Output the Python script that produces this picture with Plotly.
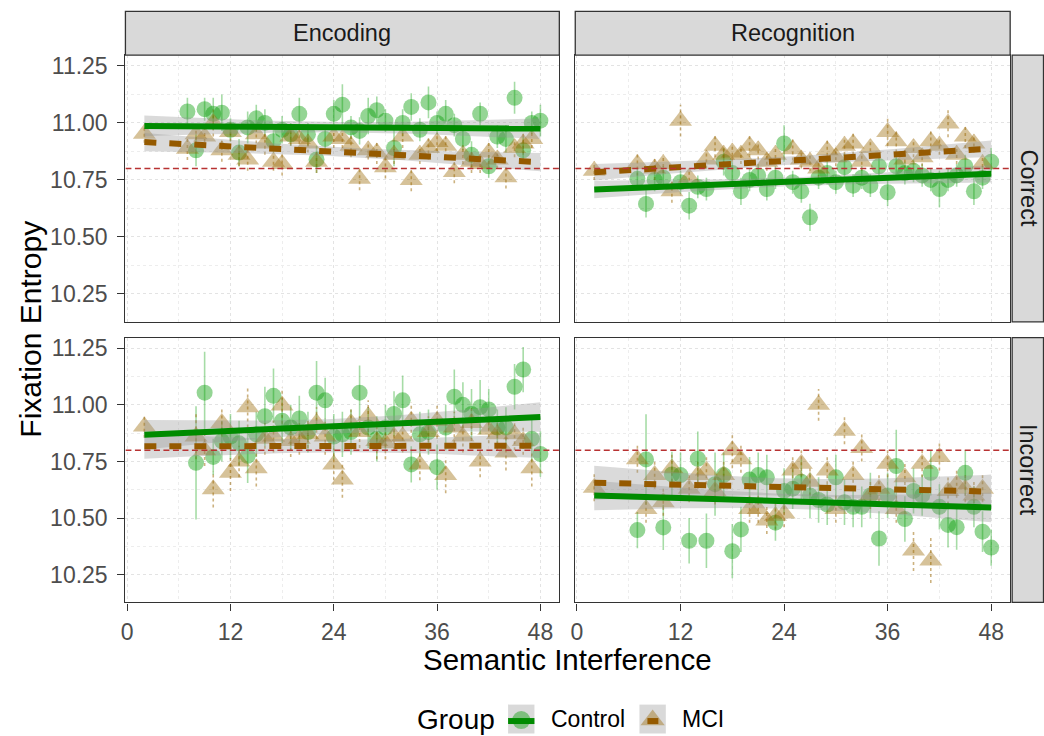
import numpy as np
import plotly.graph_objects as go

W, H = 1044, 736

# ------------------------------------------------------------------ data
fit_x = [2, 48]

# Encoding / Correct
enc_cor_ctrl_x = list(range(7, 49))
enc_cor_ctrl_y = [11.05, 10.88, 11.06, 11.04, 11.045, 10.97, 10.87, 10.98, 11.02, 11.00,
                  10.92, 10.97, 10.95, 11.04, 10.95, 10.84, 10.93, 11.04, 11.08, 10.98,
                  10.965, 11.03, 11.056, 11.01, 10.89, 11.00, 11.07, 10.97, 11.09, 11.00,
                  11.04, 10.99, 10.93, 10.86, 11.04, 10.81, 10.94, 10.93, 11.11, 10.88,
                  11.00, 11.01]
enc_cor_ctrl_err = [.06, .07, .05, .07, .08, .05, .06, .07, .06, .06,
                    .05, .06, .05, .07, .05, .06, .05, .06, .09, .05,
                    .06, .08, .06, .05, .08, .06, .06, .05, .07, .05,
                    .06, .05, .05, .06, .05, .05, .05, .06, .07, .06,
                    .05, .07]
enc_cor_ctrl_fit = [10.987, 10.975]
enc_cor_ctrl_ci = 0.045

enc_cor_mci_x = [2, 7, 8, 9, 10, 11, 12, 13, 14, 15, 16, 17, 18, 19, 20, 21, 22, 24, 25, 26,
                 27, 28, 29, 30, 31, 32, 33, 34, 35, 36, 37, 38, 39, 40, 41, 42, 43, 44, 45, 46, 47]
enc_cor_mci_y = [10.953, 10.887, 10.95, 10.94, 11.00, 10.88, 10.96, 10.86, 10.84, 10.95,
                 10.91, 10.83, 10.82, 10.94, 10.93, 10.91, 10.83, 10.94, 10.93, 10.90,
                 10.755, 10.88, 10.87, 10.806, 10.86, 10.94, 10.75, 10.86, 10.89, 10.916,
                 10.90, 10.785, 10.86, 10.83, 10.82, 10.87, 10.84, 10.762, 10.89, 10.91, 10.93]
enc_cor_mci_err = [.04, .05, .05, .05, .06, .05, .04, .05, .05, .04,
                   .05, .04, .05, .04, .05, .04, .05, .05, .04, .05,
                   .05, .04, .05, .05, .04, .05, .05, .04, .05, .04,
                   .05, .05, .04, .05, .04, .05, .04, .05, .04, .05, .04]
enc_cor_mci_fit = [10.916, 10.828]
enc_cor_mci_ci = 0.04

# Recognition / Correct
rec_cor_ctrl_x = [7, 8, 9, 10, 12, 13, 14, 15, 17, 18, 19, 20, 21, 22, 23, 24, 25, 26, 27, 28,
                  29, 30, 31, 32, 33, 34, 35, 36, 37, 38, 39, 40, 41, 42, 43, 44, 45, 46, 47, 48]
rec_cor_ctrl_y = [10.755, 10.645, 10.75, 10.76, 10.74, 10.637, 10.72, 10.71, 10.83, 10.78,
                  10.70, 10.75, 10.77, 10.71, 10.76, 10.91, 10.74, 10.70, 10.586, 10.76,
                  10.78, 10.74, 10.806, 10.725, 10.76, 10.725, 10.81, 10.696, 10.81, 10.78,
                  10.79, 10.77, 10.75, 10.71, 10.75, 10.77, 10.81, 10.70, 10.76, 10.83]
rec_cor_ctrl_err = [.05, .06, .05, .05, .05, .06, .05, .05, .06, .05,
                    .06, .05, .05, .05, .05, .08, .05, .05, .06, .05,
                    .05, .05, .06, .05, .05, .05, .05, .06, .05, .05,
                    .05, .05, .05, .08, .05, .05, .05, .06, .05, .06]
rec_cor_ctrl_fit = [10.708, 10.777]
rec_cor_ctrl_ci = 0.038

rec_cor_mci_x = [2, 7, 9, 10, 11, 12, 13, 15, 16, 17, 18, 19, 20, 21, 22, 23, 25, 26, 27, 28,
                 29, 30, 31, 32, 33, 34, 36, 37, 38, 39, 40, 41, 42, 43, 44, 45, 46, 47]
rec_cor_mci_y = [10.79, 10.82, 10.80, 10.82, 10.70, 11.01, 10.76, 10.84, 10.90, 10.86,
                 10.87, 10.86, 10.90, 10.88, 10.83, 10.86, 10.885, 10.84, 10.83, 10.80,
                 10.88, 10.85, 10.90, 10.91, 10.83, 10.89, 10.96, 10.92, 10.84, 10.89,
                 10.85, 10.92, 10.90, 10.997, 10.86, 10.94, 10.91, 10.82]
rec_cor_mci_err = [.04, .05, .05, .04, .05, .07, .04, .04, .05, .04,
                   .04, .04, .05, .04, .04, .04, .05, .04, .04, .04,
                   .05, .04, .04, .05, .04, .04, .06, .05, .04, .04,
                   .04, .05, .04, .06, .04, .05, .04, .04]
rec_cor_mci_fit = [10.784, 10.887]
rec_cor_mci_ci = 0.036

# Encoding / Incorrect
enc_inc_ctrl_x = list(range(8, 49))
enc_inc_ctrl_y = [10.744, 11.054, 10.77, 10.84, 10.86, 10.83, 10.775, 10.87, 10.95, 11.04,
                  10.93, 10.90, 10.94, 10.88, 11.054, 11.02, 10.86, 10.87, 10.88, 11.054,
                  10.90, 10.85, 10.90, 10.96, 11.02, 10.737, 10.87, 10.88, 10.725, 10.90,
                  11.036, 11.00, 10.96, 10.99, 10.98, 10.90, 10.90, 11.08, 11.156, 10.85,
                  10.783]
enc_inc_ctrl_err = [.25, .18, .08, .09, .10, .10, .12, .10, .13, .12,
                    .10, .10, .10, .09, .14, .10, .10, .10, .10, .12,
                    .09, .10, .10, .10, .11, .08, .10, .10, .10, .10,
                    .12, .10, .11, .12, .09, .08, .09, .10, .10, .10,
                    .10]
enc_inc_ctrl_fit = [10.868, 10.946]
enc_inc_ctrl_ci = 0.065

enc_inc_mci_x = [2] + list(range(8, 48))
enc_inc_mci_y = [10.905, 10.86, 10.80, 10.627, 10.92, 10.70, 10.75, 10.99, 10.72, 10.85,
                 10.86, 10.997, 10.84, 10.85, 10.87, 10.92, 10.86, 10.737, 10.67, 10.92,
                 10.88, 10.95, 10.84, 10.83, 10.86, 10.86, 10.93, 10.737, 10.88, 10.93,
                 10.69, 10.90, 10.86, 10.92, 10.75, 10.89, 10.87, 10.79, 10.87, 10.84,
                 10.72]
enc_inc_mci_err = [.05, .10, .07, .08, .06, .08, .07, .09, .08, .07,
                   .07, .08, .07, .07, .06, .07, .08, .07, .08, .06,
                   .07, .07, .08, .07, .06, .07, .08, .07, .07, .08,
                   .08, .07, .07, .08, .07, .06, .07, .08, .07, .06,
                   .08]
enc_inc_mci_fit = [10.817, 10.820]
enc_inc_mci_ci = 0.055

# Recognition / Incorrect
rec_inc_ctrl_x = [7, 8] + list(range(10, 49))
rec_inc_ctrl_y = [10.447, 10.759, 10.459, 10.693, 10.69, 10.40, 10.762, 10.40, 10.65, 10.69,
                  10.354, 10.45, 10.67, 10.69, 10.68, 10.48, 10.62, 10.63, 10.66, 10.60,
                  10.58, 10.56, 10.68, 10.57, 10.55, 10.55, 10.60, 10.41, 10.60, 10.73,
                  10.496, 10.62, 10.60, 10.70, 10.55, 10.47, 10.46, 10.70, 10.55, 10.44,
                  10.37]
rec_inc_ctrl_err = [.08, .20, .10, .10, .10, .10, .12, .12, .14, .10,
                    .12, .10, .10, .10, .10, .08, .10, .09, .10, .10,
                    .10, .09, .10, .10, .09, .09, .10, .12, .10, .16,
                    .10, .10, .09, .10, .10, .10, .10, .10, .09, .09,
                    .08]
rec_inc_ctrl_fit = [10.600, 10.547]
rec_inc_ctrl_ci = 0.065

rec_inc_mci_x = [2, 7, 8, 9, 10, 11] + list(range(13, 48))
rec_inc_mci_y = [10.634, 10.76, 10.54, 10.69, 10.57, 10.72, 10.63, 10.69, 10.71, 10.62,
                 10.69, 10.80, 10.76, 10.54, 10.54, 10.49, 10.51, 10.52, 10.71, 10.74,
                 10.66, 11.00, 10.71, 10.54, 10.886, 10.69, 10.81, 10.60, 10.63, 10.74,
                 10.54, 10.68, 10.357, 10.74, 10.313, 10.77, 10.62, 10.65, 10.63, 10.60,
                 10.63]
rec_inc_mci_err = [.06, .06, .06, .06, .06, .06, .06, .06, .06, .06,
                   .06, .08, .06, .06, .06, .06, .06, .06, .06, .06,
                   .06, .07, .06, .06, .06, .06, .06, .06, .06, .06,
                   .06, .06, .09, .06, .10, .06, .06, .06, .06, .06,
                   .06]
rec_inc_mci_fit = [10.656, 10.617]
rec_inc_mci_ci = 0.075

reference_level = 10.8
x_ticks = [0, 12, 24, 36, 48]
y_ticks = [10.25, 10.50, 10.75, 11.00, 11.25]
col_labels = ["Encoding", "Recognition"]
row_labels = ["Correct", "Incorrect"]
group_labels = ["Control", "MCI"]

# ------------------------------------------------------------------ style
CTRL_LINE = "#008B00"
MCI_LINE = "#955A00"
CTRL_PT = "rgba(0,155,0,0.42)"
MCI_PT = "rgba(153,102,0,0.40)"
CTRL_ERR = "rgba(0,155,0,0.35)"
MCI_ERR = "rgba(153,102,0,0.50)"
RIBBON = "rgba(150,150,150,0.35)"
REF = "#B83232"
FONT = "Liberation Sans, Arial, sans-serif"
GRID = "#E3E3E3"
GRID_MINOR = "#EDEDED"

XR = [-0.2, 50.2]
YR = [10.128, 11.297]

colpx = [(121, 557), (573, 1010)]
rowpx = [(53.3, 320.7), (336.5, 602)]


def fx(p):
    return p / W


def fy(p):
    return 1 - p / H


fig = go.Figure()

panels = [
    ("x", "y", (enc_cor_ctrl_x, enc_cor_ctrl_y, enc_cor_ctrl_err, enc_cor_ctrl_fit, enc_cor_ctrl_ci),
     (enc_cor_mci_x, enc_cor_mci_y, enc_cor_mci_err, enc_cor_mci_fit, enc_cor_mci_ci)),
    ("x2", "y2", (rec_cor_ctrl_x, rec_cor_ctrl_y, rec_cor_ctrl_err, rec_cor_ctrl_fit, rec_cor_ctrl_ci),
     (rec_cor_mci_x, rec_cor_mci_y, rec_cor_mci_err, rec_cor_mci_fit, rec_cor_mci_ci)),
    ("x3", "y3", (enc_inc_ctrl_x, enc_inc_ctrl_y, enc_inc_ctrl_err, enc_inc_ctrl_fit, enc_inc_ctrl_ci),
     (enc_inc_mci_x, enc_inc_mci_y, enc_inc_mci_err, enc_inc_mci_fit, enc_inc_mci_ci)),
    ("x4", "y4", (rec_inc_ctrl_x, rec_inc_ctrl_y, rec_inc_ctrl_err, rec_inc_ctrl_fit, rec_inc_ctrl_ci),
     (rec_inc_mci_x, rec_inc_mci_y, rec_inc_mci_err, rec_inc_mci_fit, rec_inc_mci_ci)),
]


def err_segments(xs, ys, es):
    ex, ey = [], []
    for x, y, e in zip(xs, ys, es):
        ex += [x, x, None]
        ey += [y - e, y + e, None]
    return ex, ey


for xa, ya, ctrl, mci in panels:
    # error bars
    for (xs, ys, es, _, _), col, dash in [(ctrl, CTRL_ERR, "solid"), (mci, MCI_ERR, "dot")]:
        ex, ey = err_segments(xs, ys, es)
        fig.add_trace(go.Scatter(x=ex, y=ey, mode="lines", xaxis=xa, yaxis=ya,
                                 line=dict(color=col, width=1.6, dash=dash),
                                 showlegend=False, hoverinfo="skip"))
    # points
    fig.add_trace(go.Scatter(x=ctrl[0], y=ctrl[1], mode="markers", xaxis=xa, yaxis=ya,
                             marker=dict(symbol="circle", size=16, color=CTRL_PT, line=dict(width=0)),
                             showlegend=False))
    fig.add_trace(go.Scatter(x=mci[0], y=mci[1], mode="markers", xaxis=xa, yaxis=ya,
                             marker=dict(symbol="triangle-up", size=20, color=MCI_PT, line=dict(width=0)),
                             showlegend=False))
    # ribbons and fit lines
    gx = np.linspace(fit_x[0], fit_x[1], 60)
    xc = (fit_x[0] + fit_x[1]) / 2
    half = (fit_x[1] - fit_x[0]) / 2
    for (_, _, _, fit, ci) in (ctrl, mci):
        gy = np.interp(gx, fit_x, fit)
        hw = ci * np.sqrt((1 + 3 * ((gx - xc) / half) ** 2) / 4)
        fig.add_trace(go.Scatter(x=np.concatenate([gx, gx[::-1]]),
                                 y=np.concatenate([gy + hw, (gy - hw)[::-1]]),
                                 fill="toself", fillcolor=RIBBON, line=dict(width=0),
                                 mode="lines", xaxis=xa, yaxis=ya, showlegend=False,
                                 hoverinfo="skip"))
    fig.add_trace(go.Scatter(x=fit_x, y=ctrl[3], mode="lines", xaxis=xa, yaxis=ya,
                             line=dict(color=CTRL_LINE, width=6), showlegend=False))
    fig.add_trace(go.Scatter(x=fit_x, y=mci[3], mode="lines", xaxis=xa, yaxis=ya,
                             line=dict(color=MCI_LINE, width=6, dash="12px,13px"), showlegend=False))
    # reference line
    fig.add_trace(go.Scatter(x=XR, y=[reference_level, reference_level], mode="lines",
                             xaxis=xa, yaxis=ya, line=dict(color=REF, width=1.5, dash="6px,3.5px"),
                             showlegend=False, hoverinfo="skip"))

# ------------------------------------------------------------------ axes
layout = dict(width=W, height=H, margin=dict(l=0, r=0, t=0, b=0),
              paper_bgcolor="white", plot_bgcolor="rgba(0,0,0,0)",
              font=dict(family=FONT), showlegend=False)

axis_ids = [("xaxis", "yaxis", 0, 0), ("xaxis2", "yaxis2", 0, 1),
            ("xaxis3", "yaxis3", 1, 0), ("xaxis4", "yaxis4", 1, 1)]
for i, (xk, yk, r, c) in enumerate(axis_ids):
    xa_name = "x" if i == 0 else f"x{i + 1}"
    ya_name = "y" if i == 0 else f"y{i + 1}"
    bottom = r == 1
    left = c == 0
    layout[xk] = dict(
        domain=[fx(colpx[c][0]), fx(colpx[c][1])], range=XR, anchor=ya_name,
        tickmode="array", tickvals=x_ticks,
        ticks="outside" if bottom else "", ticklen=7, tickwidth=1.3, tickcolor="#333333",
        showticklabels=bottom, tickfont=dict(size=23, color="#4D4D4D", family=FONT),
        ticklabelstandoff=2,
        showgrid=True, gridcolor=GRID, griddash="dot", gridwidth=1,
        minor=dict(tickmode="linear", tick0=0, dtick=6, showgrid=True,
                   gridcolor=GRID_MINOR, griddash="dot", gridwidth=1),
        showline=True, mirror=True, linecolor="#333333", linewidth=1.3, zeroline=False,
        fixedrange=True)
    layout[yk] = dict(
        domain=[fy(rowpx[r][1]), fy(rowpx[r][0])], range=YR, anchor=xa_name,
        tickmode="array", tickvals=y_ticks, ticktext=[f"{v:.2f}" for v in y_ticks],
        ticks="outside" if left else "", ticklen=7, tickwidth=1.3, tickcolor="#333333",
        showticklabels=left, tickfont=dict(size=23, color="#4D4D4D", family=FONT),
        ticklabelstandoff=5,
        showgrid=True, gridcolor=GRID, griddash="dot", gridwidth=1,
        minor=dict(tickmode="linear", tick0=10.125, dtick=0.125, showgrid=True,
                   gridcolor=GRID_MINOR, griddash="dot", gridwidth=1),
        showline=True, mirror=True, linecolor="#333333", linewidth=1.3, zeroline=False,
        fixedrange=True)

# overlay axis in pixel units for the legend keys
layout["xaxis5"] = dict(domain=[0, 1], range=[0, W], visible=False, anchor="y5", fixedrange=True)
layout["yaxis5"] = dict(domain=[0, 1], range=[H, 0], visible=False, anchor="x5", fixedrange=True)

shapes = []
annotations = []

# strips
for c, lab in enumerate(col_labels):
    shapes.append(dict(type="rect", xref="paper", yref="paper",
                       x0=fx(colpx[c][0]), x1=fx(colpx[c][1]), y0=fy(53.3), y1=fy(9.5),
                       fillcolor="#D9D9D9", line=dict(color="#333333", width=1.3)))
    annotations.append(dict(text=lab, xref="paper", yref="paper",
                            x=fx((colpx[c][0] + colpx[c][1]) / 2), y=fy(31.5),
                            xanchor="center", yanchor="middle", showarrow=False,
                            font=dict(size=23.5, color="#1A1A1A", family=FONT)))
for r, lab in enumerate(row_labels):
    shapes.append(dict(type="rect", xref="paper", yref="paper",
                       x0=fx(1012), x1=fx(1043.5), y0=fy(rowpx[r][1]), y1=fy(rowpx[r][0]),
                       fillcolor="#D9D9D9", line=dict(color="#333333", width=1.3)))
    annotations.append(dict(text=lab, xref="paper", yref="paper",
                            x=fx(1028), y=fy((rowpx[r][0] + rowpx[r][1]) / 2),
                            xanchor="center", yanchor="middle", textangle=90, showarrow=False,
                            font=dict(size=23.5, color="#1A1A1A", family=FONT)))

# axis titles
annotations.append(dict(text="Semantic Interference", xref="paper", yref="paper",
                        x=fx((colpx[0][0] + colpx[1][1]) / 2), y=fy(659),
                        xanchor="center", yanchor="middle", showarrow=False,
                        font=dict(size=29.5, color="black", family=FONT)))
annotations.append(dict(text="Fixation Entropy", xref="paper", yref="paper",
                        x=fx(26), y=fy((rowpx[0][0] + rowpx[1][1]) / 2),
                        xanchor="center", yanchor="middle", textangle=-90, showarrow=False,
                        font=dict(size=30, color="black", family=FONT)))

# legend (drawn by hand, ggplot style)
key_y = 719
annotations.append(dict(text="Group", xref="x5", yref="y5", x=412, y=key_y,
                        xanchor="left", yanchor="middle", showarrow=False,
                        font=dict(size=28, color="black", family=FONT)))
keys = [(505.5, group_labels[0], CTRL_PT, "circle", 18, CTRL_LINE, (505.5, 532)),
        (637.5, group_labels[1], MCI_PT, "triangle-up", 21, MCI_LINE, (645.5, 656.5))]
for kx, lab, pcol, sym, sz, lcol, (lx0, lx1) in keys:
    shapes.append(dict(type="rect", xref="x5", yref="y5", x0=kx, x1=kx + 26.5,
                       y0=key_y - 14.5, y1=key_y + 14.5, fillcolor="#D9D9D9",
                       line=dict(width=0), layer="below"))
    fig.add_trace(go.Scatter(x=[kx + 13.25], y=[key_y + 1], mode="markers", xaxis="x5", yaxis="y5",
                             marker=dict(symbol=sym, size=sz, color=pcol, line=dict(width=0)),
                             showlegend=False, hoverinfo="skip"))
    fig.add_trace(go.Scatter(x=[lx0, lx1], y=[key_y + 2, key_y + 2], mode="lines",
                             xaxis="x5", yaxis="y5", line=dict(color=lcol, width=6),
                             showlegend=False, hoverinfo="skip"))
    annotations.append(dict(text=lab, xref="x5", yref="y5", x=kx + 41, y=key_y,
                            xanchor="left", yanchor="middle", showarrow=False,
                            font=dict(size=23, color="black", family=FONT)))

layout["shapes"] = shapes
layout["annotations"] = annotations
fig.update_layout(**layout)

fig.write_html("out.html")
